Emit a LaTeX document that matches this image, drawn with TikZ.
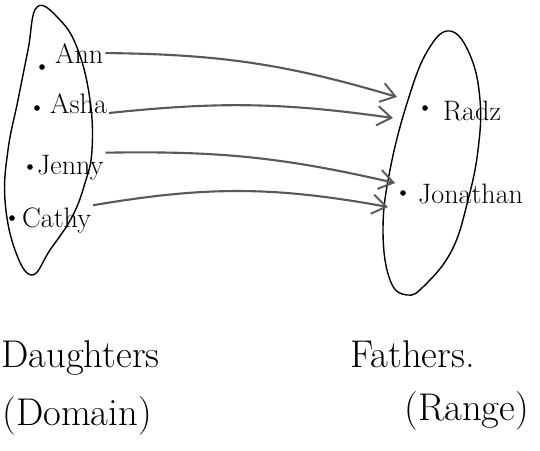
\documentclass[tikz,border=0pt]{standalone}
\usepackage{tikz}
\usetikzlibrary{arrows.meta,calc,positioning}
\tikzset{
  namedot/.style={circle,fill=black,inner sep=0pt,minimum size=3.2pt},
  namelabel/.style={anchor=base west,inner sep=1pt,font=\fontsize{16}{19}\selectfont},
  setlabel/.style={inner sep=0pt,font=\fontsize{22}{26}\selectfont},
  setblob/.style={draw=black,line width=0.8pt},
  maparrow/.style={draw=black!65,line width=1.2pt,
    -{Straight Barb[length=8pt,width=11pt,line width=1.1pt]}},
}

\begin{document}
\begin{tikzpicture}[x=0.02cm,y=-0.02cm]
\useasboundingbox (0,0) rectangle (540,450);
% The two sets
\draw[setblob] plot[smooth cycle,tension=0.7] coordinates {
  (37,7) (60,20) (78,50) (90,100) (92,150) (85,183) (72,217) (50,250)
  (32,275) (15,250) (5,200) (8,150) (18,100) (28,50)};
\draw[setblob] plot[smooth cycle,tension=0.7] coordinates {
  (450,31) (470,55) (480,100) (478,150) (468,200) (452,250) (425,285)
  (407,295) (390,280) (383,230) (390,170) (408,100) (428,50)};
% Daughters
\foreach \id/\txt/\dx/\dy/\lx/\ly in {ann/Ann/42/67/53/63,
    asha/Asha/37/108/48/113, jenny/Jenny/30/167/35/174,
    cathy/Cathy/12/218/20/227}{
  \node[namedot] (d\id) at (\dx,\dy) {};
  \node[namelabel] (\id) at (\lx,\ly) {\txt};
}
% Fathers
\node[namedot] (dradz) at (425,108) {};
\node[namelabel] (radz) at (441,120) {Radz};
\node[namedot] (djonathan) at (403,193) {};
\node[namelabel] (jonathan) at (416,203) {Jonathan};
% Arrow ends just outside the range set
\coordinate (tipann) at (397,97);
\coordinate (tipasha) at (393,118);
\coordinate (tipjenny) at (395,183);
\coordinate (tipcathy) at (388,207);
\draw[maparrow] (ann.east) to[bend left=8] (tipann);
\draw[maparrow] (asha.base east) to[bend left=7] (tipasha);
\draw[maparrow] (jenny.north east) to[bend left=7] (tipjenny);
\draw[maparrow] (cathy.north east) to[bend left=10] (tipcathy);
% Set names
\node[setlabel,anchor=base west] (dom) at (1,367) {Daughters};
\node[setlabel,anchor=base west] (domnote) at (2,425) {(Domain)};
\node[setlabel,anchor=base west] (ran) at (350,367) {Fathers.};
\node[setlabel,anchor=base west] (rannote) at (404,420) {(Range)};
\end{tikzpicture}
\end{document}
